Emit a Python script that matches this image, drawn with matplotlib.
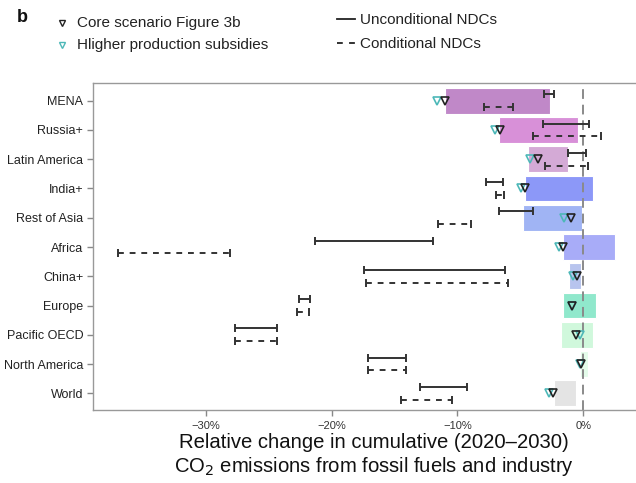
import matplotlib
matplotlib.use("Agg")
import matplotlib.pyplot as plt
from matplotlib.lines import Line2D
import numpy as np

plt.rcParams['font.family'] = ['Liberation Sans', 'DejaVu Sans']

regions = ["MENA", "Russia+", "Latin America", "India+", "Rest of Asia", "Africa",
           "China+", "Europe", "Pacific OECD", "North America", "World"]
bar_lo = [-11.0, -6.67, -4.4, -4.6, -4.8, -1.57, -1.14, -1.57, -1.75, -0.24, -2.33]
bar_hi = [-2.6, -0.42, -1.2, 0.82, -0.08, 2.55, -0.2, 1.04, 0.77, 0.42, -0.56]
core = [-10.95, -6.6, -3.56, -4.62, -0.95, -1.62, -0.5, -0.9, -0.56, -0.2, -2.41]
high = [-11.6, -7.0, -4.25, -4.94, -1.49, -1.89, -0.82, -0.9, -0.24, -0.22, -2.68]
uncond_lo = [-3.1, -3.2, -1.17, -7.73, -6.72, -21.35, -17.4, -22.6, -27.7, -17.1, -13.0]
uncond_hi = [-2.3, 0.45, 0.24, -6.35, -4.0, -11.9, -6.19, -21.75, -24.33, -14.1, -9.27]
cond_lo = [-7.9, -3.96, -3.03, -6.93, -11.5, -37.0, -17.3, -22.73, -27.65, -17.1, -14.45]
cond_hi = [-5.6, 1.38, 0.37, -6.27, -8.9, -28.1, -5.95, -21.8, -24.33, -14.1, -10.4]
bar_colors = ["#c088c8", "#d890d8", "#d4aad6", "#8c98f8", "#a0b4f4", "#a8acf8",
              "#b8c4ee", "#90e8cc", "#d0f8dc", "#e4fcea", "#e4e4e4"]
xticks = [-30, -20, -10, 0]
xticklabels = ["\u221230%", "\u221220%", "\u221210%", "0%"]

W, H = 636, 483
fig = plt.figure(figsize=(W / 100, H / 100), dpi=100)
ax = fig.add_axes([93 / W, (H - 410) / H, 1.0 - 93 / W + 0.002, (410 - 83) / H])

y = np.arange(len(regions))
lo = np.array(bar_lo); hi = np.array(bar_hi)
ax.barh(y, hi - lo, left=lo, height=0.88, color=bar_colors,
        edgecolor="white", linewidth=0.8, zorder=1)

ax.axvline(0, color="#8a8a8a", lw=1.4, ls=(0, (5, 3)), zorder=2)

ecol = "#333333"
ul = np.array(uncond_lo); uh = np.array(uncond_hi)
eb1 = ax.errorbar((ul + uh) / 2, y - 0.22, xerr=(uh - ul) / 2, fmt="none",
                  ecolor=ecol, elinewidth=1.4, capsize=2.6, capthick=1.4, zorder=3)
cl = np.array(cond_lo); ch = np.array(cond_hi)
eb2 = ax.errorbar((cl + ch) / 2, y + 0.22, xerr=(ch - cl) / 2, fmt="none",
                  ecolor=ecol, elinewidth=1.4, capsize=2.6, capthick=1.4, zorder=3)
eb2[2][0].set_linestyle((0, (3, 3)))

ax.plot(high, y, ls="none", marker="v", ms=6, mfc="none", mec="#4db8b8", mew=1.2, zorder=4)
ax.plot(core, y, ls="none", marker="v", ms=6, mfc="none", mec="#222222", mew=1.2, zorder=5)

ax.set_xlim(-38.96, 4.3)
ax.set_ylim(10.57, -0.605)
ax.set_yticks(y)
ax.set_yticklabels(regions, fontsize=9, color="#222222")
ax.set_xticks(xticks)
ax.set_xticklabels(xticklabels, fontsize=8, color="#333333")
ax.tick_params(axis="both", colors="#888888", length=4, width=1)
for lab in ax.get_yticklabels():
    lab.set_color("#222222")
for lab in ax.get_xticklabels():
    lab.set_color("#333333")
ax.tick_params(axis="x", pad=4)
ax.tick_params(axis="y", pad=3)
for s in ["left", "bottom", "top"]:
    ax.spines[s].set_color("#999999")
    ax.spines[s].set_linewidth(1.0)
ax.spines["right"].set_visible(False)

def px(xp, yp):
    return (xp / W, 1 - yp / H)

fig.text(*px(374, 443), "Relative change in cumulative (2020\u20132030)", fontsize=14.6,
         ha="center", va="center", color="#111111")
fig.text(*px(374, 466), "CO$_2$ emissions from fossil fuels and industry", fontsize=14.6,
         ha="center", va="center", color="#111111")

fig.text(*px(17, 18), "b", fontsize=13, fontweight="bold", ha="left", va="center", color="#111111")
fig.add_artist(Line2D([62 / W], [1 - 23 / H], marker="v", ms=5, mfc="none", mec="#222222",
                      mew=1.0, ls="none", transform=fig.transFigure))
fig.add_artist(Line2D([62 / W], [1 - 45 / H], marker="v", ms=5, mfc="none", mec="#4db8b8",
                      mew=1.0, ls="none", transform=fig.transFigure))
fig.text(*px(77, 23), "Core scenario Figure 3b", fontsize=11, ha="left", va="center", color="#222222")
fig.text(*px(77, 45), "Hligher production subsidies", fontsize=11, ha="left", va="center", color="#222222")

fig.add_artist(Line2D([337 / W, 355 / W], [1 - 19 / H, 1 - 19 / H], color="#222222", lw=1.3,
                      transform=fig.transFigure))
fig.add_artist(Line2D([337 / W, 355 / W], [1 - 43 / H, 1 - 43 / H], color="#222222", lw=1.3,
                      ls=(0, (3.2, 3.5)), transform=fig.transFigure))
fig.text(*px(360, 20), "Unconditional NDCs", fontsize=11, ha="left", va="center", color="#222222")
fig.text(*px(360, 44), "Conditional NDCs", fontsize=11, ha="left", va="center", color="#222222")

fig.savefig("out.png", dpi=100)
